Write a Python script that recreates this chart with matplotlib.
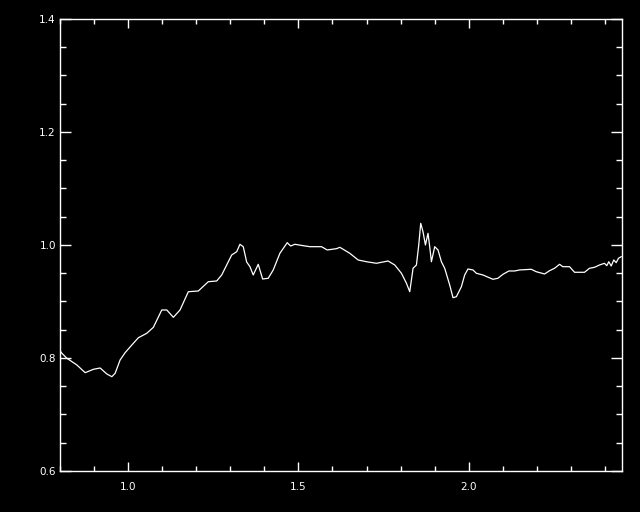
import numpy as np
import matplotlib
matplotlib.use("Agg")
import matplotlib.pyplot as plt
from matplotlib.ticker import MultipleLocator

# values
wave = [0.8006, 0.8056, 0.8202, 0.8496, 0.8739, 0.8982, 0.9179, 0.9375, 0.9522, 0.9619,
        0.9765, 0.9912, 1.0109, 1.0302, 1.0548, 1.0742, 1.0988, 1.1135, 1.1328, 1.1525,
        1.1768, 1.2062, 1.2355, 1.2601, 1.2748, 1.3041, 1.3188, 1.3284, 1.3381, 1.3481,
        1.3578, 1.3674, 1.3821, 1.3950, 1.4114, 1.4261, 1.4457, 1.4672, 1.4771, 1.4897,
        1.5141, 1.5337, 1.5680, 1.5845, 1.6120, 1.6217, 1.6510, 1.6754, 1.7000, 1.7293,
        1.7633, 1.7830, 1.8026, 1.8173, 1.8270, 1.8367, 1.8466, 1.8534, 1.8592, 1.8659,
        1.8730, 1.8806, 1.8856, 1.8906, 1.9003, 1.9100, 1.9199, 1.9296, 1.9443, 1.9540,
        1.9639, 1.9786, 1.9883, 1.9979, 2.0126, 2.0226, 2.0419, 2.0713, 2.0859, 2.1006,
        2.1182, 2.1349, 2.1496, 2.1839, 2.1985, 2.2229, 2.2375, 2.2522, 2.2669, 2.2765,
        2.2962, 2.3109, 2.3402, 2.3548, 2.3695, 2.3842, 2.3988, 2.4056, 2.4114, 2.4185,
        2.4261, 2.4331, 2.4399, 2.4478]
flux = [0.8124, 0.8083, 0.7995, 0.7876, 0.7740, 0.7800, 0.7823, 0.7717, 0.7669, 0.7729,
        0.7965, 0.8094, 0.8230, 0.8359, 0.8437, 0.8543, 0.8850, 0.8850, 0.8720, 0.8850,
        0.9173, 0.9186, 0.9350, 0.9363, 0.9469, 0.9823, 0.9881, 1.0012, 0.9970, 0.9699,
        0.9616, 0.9469, 0.9658, 0.9398, 0.9411, 0.9558, 0.9853, 1.0041, 0.9982, 1.0012,
        0.9988, 0.9970, 0.9970, 0.9912, 0.9935, 0.9959, 0.9853, 0.9735, 0.9704, 0.9676,
        0.9717, 0.9646, 0.9499, 0.9322, 0.9173, 0.9588, 0.9646, 1.0000, 1.0384, 1.0235,
        1.0000, 1.0207, 0.9970, 0.9704, 0.9970, 0.9912, 0.9704, 0.9588, 0.9292, 0.9067,
        0.9085, 0.9262, 0.9469, 0.9575, 0.9558, 0.9499, 0.9469, 0.9393, 0.9411, 0.9481,
        0.9540, 0.9540, 0.9558, 0.9570, 0.9527, 0.9487, 0.9545, 0.9588, 0.9658, 0.9616,
        0.9616, 0.9517, 0.9517, 0.9588, 0.9605, 0.9646, 0.9676, 0.9634, 0.9704, 0.9628,
        0.9735, 0.9687, 0.9765, 0.9793]

x_ticks = [1.0, 1.5, 2.0]
y_ticks = [0.6, 0.8, 1.0, 1.2, 1.4]

fig = plt.figure(figsize=(6.4, 5.12), dpi=100, facecolor='black')
ax = fig.add_axes([0.09375, 0.0801, 0.878, 0.8828], facecolor='black')

ax.plot(wave, flux, color='white', lw=0.9)

ax.set_xlim(0.8, 2.45)
ax.set_ylim(0.6, 1.4)
ax.set_xticks(x_ticks)
ax.set_yticks(y_ticks)
ax.set_xticklabels([f"{v:.1f}" for v in x_ticks])
ax.set_yticklabels([f"{v:.1f}" for v in y_ticks])
ax.xaxis.set_minor_locator(MultipleLocator(0.1))
ax.yaxis.set_minor_locator(MultipleLocator(0.05))

for s in ax.spines.values():
    s.set_color('white')
    s.set_linewidth(1.0)

ax.tick_params(axis='both', which='both', direction='in', colors='white',
               top=True, right=True, labelsize=7.5, width=1.0)
ax.tick_params(axis='x', which='major', length=6.5, pad=8)
ax.tick_params(axis='x', which='minor', length=3.6)
ax.tick_params(axis='y', which='major', length=7.9, pad=3)
ax.tick_params(axis='y', which='minor', length=4.3)

fig.savefig('out.png', dpi=100, facecolor='black')
